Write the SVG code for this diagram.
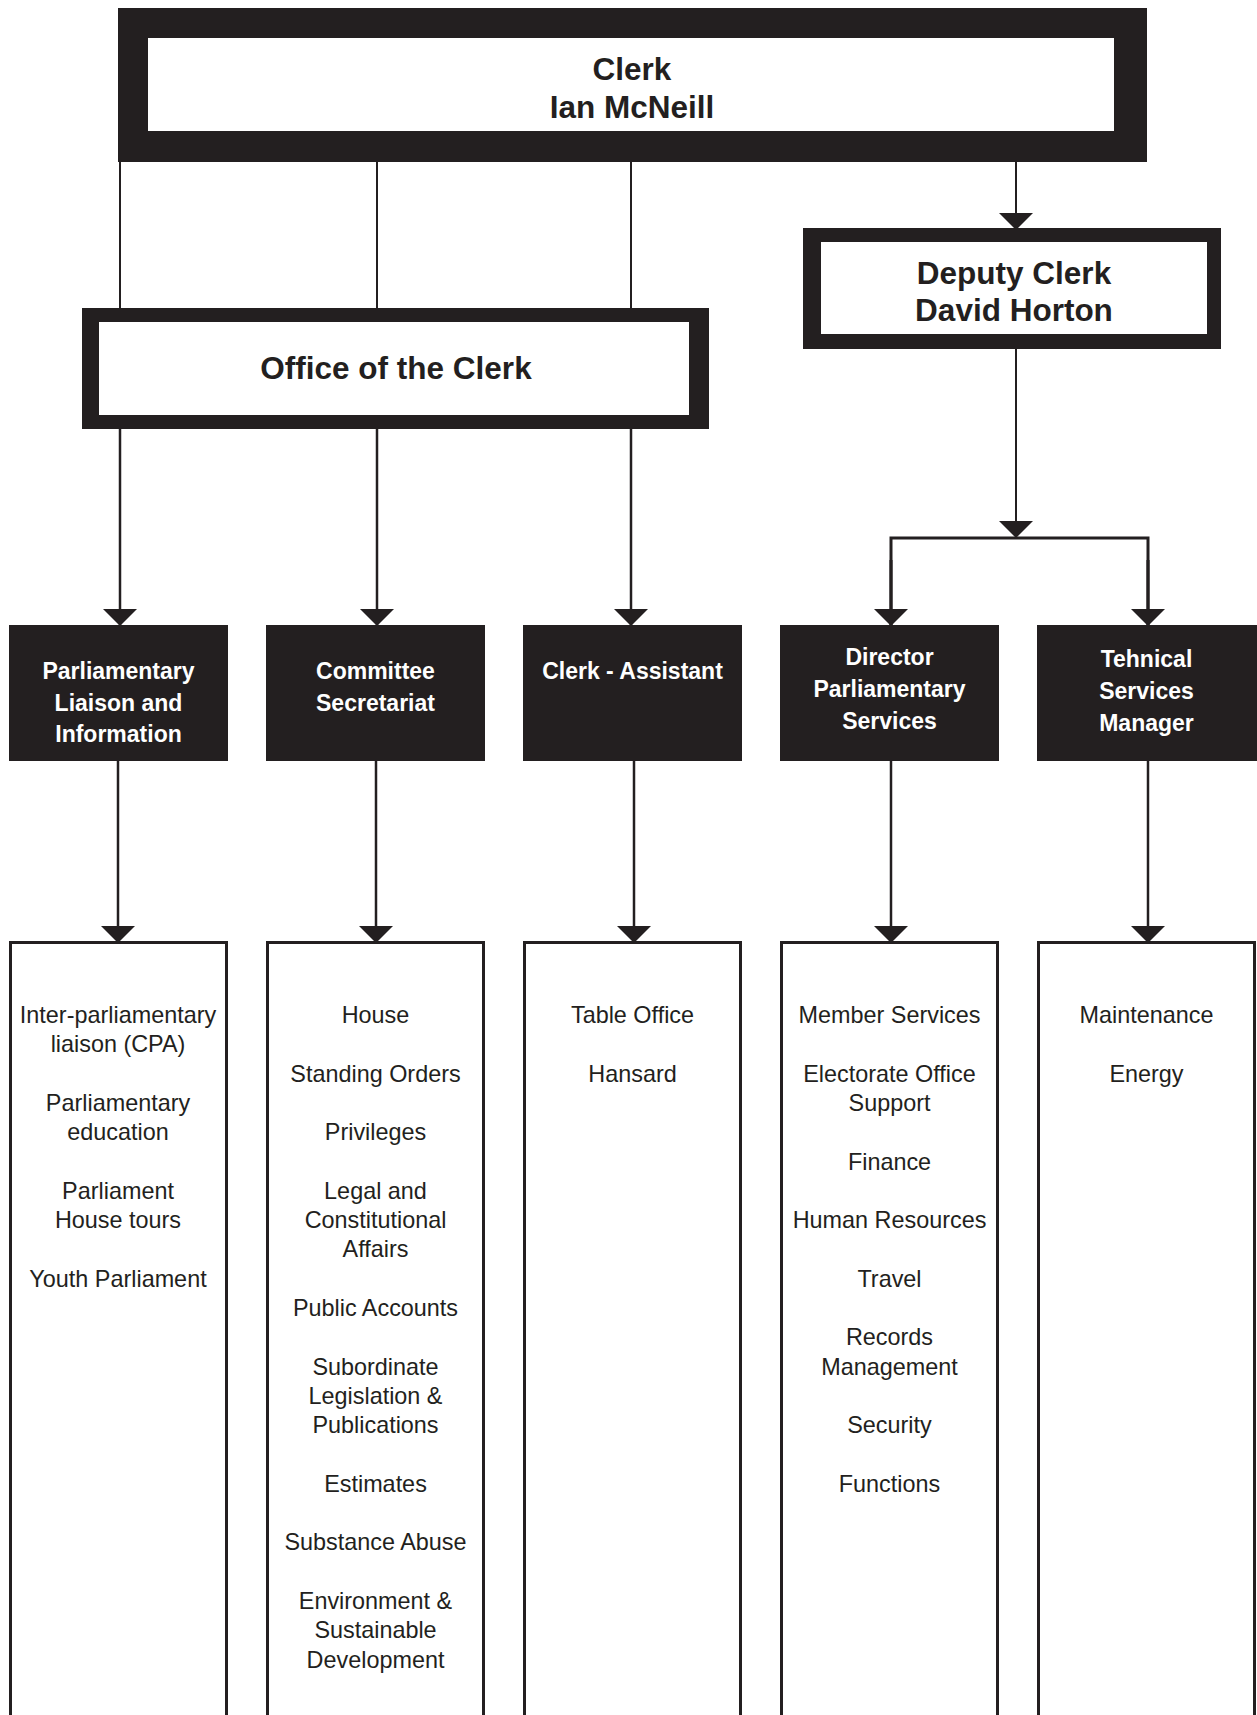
<svg xmlns="http://www.w3.org/2000/svg" width="1257" height="1715" viewBox="0 0 1257 1715">
<style>
.blk{fill:#231f20}
.wht{fill:#ffffff}
.ttl{font-family:"Liberation Sans",Arial,sans-serif;font-weight:bold;font-size:31.5px;fill:#231f20;text-anchor:middle}
.hd{font-family:"Liberation Sans",Arial,sans-serif;font-weight:bold;font-size:23px;fill:#ffffff;text-anchor:middle}
.it{font-family:"Liberation Sans",Arial,sans-serif;font-size:23.4px;fill:#231f20;text-anchor:middle}
.lst{fill:#ffffff;stroke:#231f20;stroke-width:3}
.c1{stroke:#231f20;stroke-width:2;fill:none}
.c2{stroke:#231f20;stroke-width:2.5;fill:none}
.c3{stroke:#231f20;stroke-width:3;fill:none}
</style>
<defs>
<marker id="ah" viewBox="0 -17 17 34" markerWidth="17" markerHeight="34" refX="16" refY="0" markerUnits="userSpaceOnUse" orient="auto">
<path d="M0,-17 L17,0 L0,17 Z" fill="#231f20"/>
</marker>
</defs>
<rect width="1257" height="1715" fill="#ffffff"/>

<g id="connectors">
<line class="c1" x1="120" y1="162" x2="120" y2="308"/>
<line class="c1" x1="377" y1="162" x2="377" y2="308"/>
<line class="c1" x1="631" y1="162" x2="631" y2="308"/>
<line class="c2" x1="120" y1="429" x2="120" y2="625" marker-end="url(#ah)"/>
<line class="c2" x1="377" y1="429" x2="377" y2="625" marker-end="url(#ah)"/>
<line class="c2" x1="631" y1="429" x2="631" y2="625" marker-end="url(#ah)"/>
<line class="c1" x1="1016" y1="162" x2="1016" y2="229" marker-end="url(#ah)"/>
<line class="c1" x1="1016" y1="349" x2="1016" y2="537" marker-end="url(#ah)"/>
<polyline class="c3" points="891,625 891,538 1148,538 1148,625"/>
<line class="c3" x1="891" y1="560" x2="891" y2="625" marker-end="url(#ah)"/>
<line class="c3" x1="1148" y1="560" x2="1148" y2="625" marker-end="url(#ah)"/>
<line class="c2" x1="118" y1="761" x2="118" y2="942" marker-end="url(#ah)"/>
<line class="c2" x1="376" y1="761" x2="376" y2="942" marker-end="url(#ah)"/>
<line class="c2" x1="634" y1="761" x2="634" y2="942" marker-end="url(#ah)"/>
<line class="c2" x1="891" y1="761" x2="891" y2="942" marker-end="url(#ah)"/>
<line class="c2" x1="1148" y1="761" x2="1148" y2="942" marker-end="url(#ah)"/>
</g>

<g id="clerk">
<rect class="blk" x="118" y="8" width="1029" height="154"/>
<rect class="wht" x="148" y="38" width="966" height="93"/>
<text class="ttl" x="632" y="80">Clerk</text>
<text class="ttl" x="632" y="118">Ian McNeill</text>
</g>

<g id="deputy-clerk">
<rect class="blk" x="803" y="228" width="418" height="121"/>
<rect class="wht" x="821" y="242" width="386" height="92"/>
<text class="ttl" x="1014" y="284">Deputy Clerk</text>
<text class="ttl" x="1014" y="321">David Horton</text>
</g>

<g id="office-of-the-clerk">
<rect class="blk" x="82" y="308" width="627" height="121"/>
<rect class="wht" x="99" y="322" width="590" height="93"/>
<text class="ttl" x="396" y="379">Office of the Clerk</text>
</g>

<g id="parliamentary-liaison">
<rect class="blk" x="9" y="625" width="219" height="136"/>
<text class="hd" x="118.5" y="679">Parliamentary</text>
<text class="hd" x="118.5" y="711">Liaison and</text>
<text class="hd" x="118.5" y="742">Information</text>
</g>

<g id="committee-secretariat">
<rect class="blk" x="266" y="625" width="219" height="136"/>
<text class="hd" x="375.5" y="679">Committee</text>
<text class="hd" x="375.5" y="711">Secretariat</text>
</g>

<g id="clerk-assistant">
<rect class="blk" x="523" y="625" width="219" height="136"/>
<text class="hd" x="632.5" y="679">Clerk - Assistant</text>
</g>

<g id="director-parliamentary-services">
<rect class="blk" x="780" y="625" width="219" height="136"/>
<text class="hd" x="889.5" y="665">Director</text>
<text class="hd" x="889.5" y="697">Parliamentary</text>
<text class="hd" x="889.5" y="729">Services</text>
</g>

<g id="technical-services-manager">
<rect class="blk" x="1037" y="625" width="220" height="136"/>
<text class="hd" x="1146.5" y="667">Tehnical</text>
<text class="hd" x="1146.5" y="699">Services</text>
<text class="hd" x="1146.5" y="731">Manager</text>
</g>

<g id="list-liaison">
<rect class="lst" x="10.5" y="942.5" width="216" height="800"/>
<text class="it" x="118" y="1023">Inter-parliamentary</text>
<text class="it" x="118" y="1052">liaison (CPA)</text>
<text class="it" x="118" y="1111">Parliamentary</text>
<text class="it" x="118" y="1140">education</text>
<text class="it" x="118" y="1199">Parliament</text>
<text class="it" x="118" y="1228">House tours</text>
<text class="it" x="118" y="1287">Youth Parliament</text>
</g>

<g id="list-committee">
<rect class="lst" x="267.5" y="942.5" width="216" height="800"/>
<text class="it" x="375.5" y="1023">House</text>
<text class="it" x="375.5" y="1081.6">Standing Orders</text>
<text class="it" x="375.5" y="1140.2">Privileges</text>
<text class="it" x="375.5" y="1198.8">Legal and</text>
<text class="it" x="375.5" y="1228.1">Constitutional</text>
<text class="it" x="375.5" y="1257.4">Affairs</text>
<text class="it" x="375.5" y="1316">Public Accounts</text>
<text class="it" x="375.5" y="1374.6">Subordinate</text>
<text class="it" x="375.5" y="1403.9">Legislation &amp;</text>
<text class="it" x="375.5" y="1433.2">Publications</text>
<text class="it" x="375.5" y="1491.8">Estimates</text>
<text class="it" x="375.5" y="1550.4">Substance Abuse</text>
<text class="it" x="375.5" y="1609">Environment &amp;</text>
<text class="it" x="375.5" y="1638.3">Sustainable</text>
<text class="it" x="375.5" y="1667.6">Development</text>
</g>

<g id="list-clerk-assistant">
<rect class="lst" x="524.5" y="942.5" width="216" height="800"/>
<text class="it" x="632.5" y="1023">Table Office</text>
<text class="it" x="632.5" y="1081.6">Hansard</text>
</g>

<g id="list-director">
<rect class="lst" x="781.5" y="942.5" width="216" height="800"/>
<text class="it" x="889.5" y="1023">Member Services</text>
<text class="it" x="889.5" y="1081.6">Electorate Office</text>
<text class="it" x="889.5" y="1110.9">Support</text>
<text class="it" x="889.5" y="1169.5">Finance</text>
<text class="it" x="889.5" y="1228.1">Human Resources</text>
<text class="it" x="889.5" y="1286.7">Travel</text>
<text class="it" x="889.5" y="1345.3">Records</text>
<text class="it" x="889.5" y="1374.6">Management</text>
<text class="it" x="889.5" y="1433.2">Security</text>
<text class="it" x="889.5" y="1491.8">Functions</text>
</g>

<g id="list-technical">
<rect class="lst" x="1038.5" y="942.5" width="216" height="800"/>
<text class="it" x="1146.5" y="1023">Maintenance</text>
<text class="it" x="1146.5" y="1081.6">Energy</text>
</g>
</svg>
